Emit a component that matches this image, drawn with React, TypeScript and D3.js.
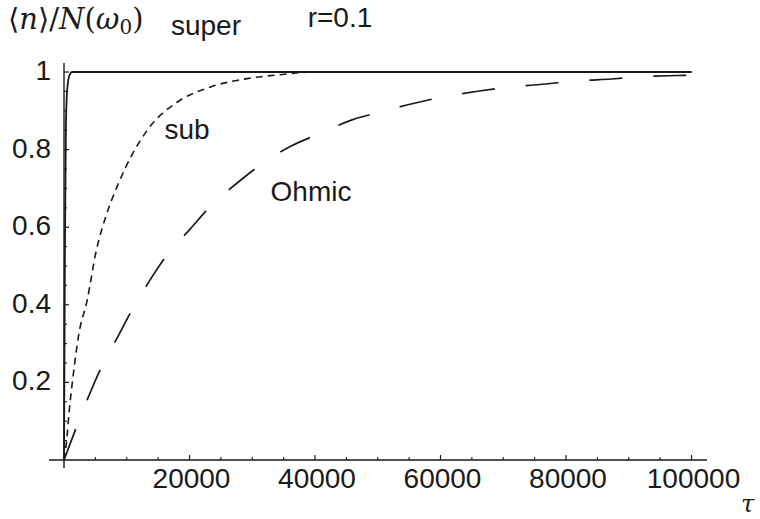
import React from "react";
import * as d3 from "d3";

const superT = [0, 150, 300, 450, 650, 900, 1300, 100000];
const superY = [0, 0.55, 0.85, 0.94, 0.975, 0.993, 1.0, 1.0];

const subT = [0, 480, 800, 1435, 2390, 3670, 5100, 6860, 8600, 13400, 18000, 23300, 29200, 34400, 40000, 100000];
const subY = [0, 0.06, 0.121, 0.214, 0.327, 0.41, 0.536, 0.637, 0.71, 0.853, 0.922, 0.961, 0.983, 0.993, 1.0, 1.0];

const ohmicT = [0, 1914, 3828, 5900, 8450, 10850, 13600, 16400, 20100, 23400, 27600, 31700, 36200, 41000, 45800, 50900, 56000, 61100, 66200, 71100, 76700, 81800, 87200, 92300, 97800, 100000];
const ohmicY = [0, 0.082, 0.16, 0.237, 0.314, 0.387, 0.461, 0.528, 0.595, 0.655, 0.714, 0.765, 0.809, 0.843, 0.876, 0.899, 0.92, 0.938, 0.951, 0.961, 0.969, 0.977, 0.982, 0.988, 0.991, 0.992];

const xMajorTicks = [20000, 40000, 60000, 80000, 100000];
const xTickLabels = ["20000", "40000", "60000", "80000", "100000"];
const yMajorTicks = [0.2, 0.4, 0.6, 0.8, 1];
const yTickLabels = ["0.2", "0.4", "0.6", "0.8", "1"];
const xMinorStep = 5000;
const yMinorStep = 0.05;

const curveNames = ["super", "sub", "Ohmic"];
const titleText = "r=0.1";

export default function App() {
  const W = 760;
  const H = 519;
  const x = d3.scaleLinear().domain([0, 100000]).range([64, 691.5]);
  const y = d3.scaleLinear().domain([0, 1]).range([460, 72]);
  const ink = "#1a1a1a";

  const line = d3
    .line<[number, number]>()
    .x((d) => x(d[0]))
    .y((d) => y(d[1]))
    .curve(d3.curveMonotoneX);

  const zip = (a: number[], b: number[]) => a.map((v, i) => [v, b[i]] as [number, number]);

  const xMinor = d3.range(xMinorStep, 100000 + 1, xMinorStep).filter((v) => v % 20000 !== 0);
  const yMinor = d3.range(1, 21).map((i) => i * yMinorStep).filter((v) => Math.abs(v * 5 - Math.round(v * 5)) > 1e-6);

  const sans = "'Liberation Sans', Arial, Helvetica, sans-serif";
  const serif = "'DejaVu Serif', 'Liberation Serif', serif";
  const fs = 28;

  return (
    <svg width={W} height={H} viewBox={`0 0 ${W} ${H}`} style={{ display: "block", position: "absolute", left: 0, top: 0, background: "#fff" }}>
      <rect width={W} height={H} fill="#fff" />
      {/* axes */}
      <line x1={49} x2={707} y1={y(0)} y2={y(0)} stroke={ink} strokeWidth={1.4} />
      <line x1={x(0)} x2={x(0)} y1={468} y2={63} stroke={ink} strokeWidth={1.4} />
      {/* x ticks */}
      {xMajorTicks.map((t) => (
        <line key={"xm" + t} x1={x(t)} x2={x(t)} y1={y(0)} y2={y(0) - 5} stroke={ink} strokeWidth={1.2} />
      ))}
      {xMinor.map((t) => (
        <line key={"xn" + t} x1={x(t)} x2={x(t)} y1={y(0)} y2={y(0) - 3} stroke={ink} strokeWidth={1.1} />
      ))}
      {xMajorTicks.map((t, i) => (
        <text key={"xl" + t} x={x(t) + 2} y={488} textAnchor="middle" fontFamily={sans} fontSize={fs} fill={ink}>
          {xTickLabels[i]}
        </text>
      ))}
      {/* y ticks */}
      {yMajorTicks.map((t) => (
        <line key={"ym" + t} x1={x(0)} x2={x(0) + 5} y1={y(t)} y2={y(t)} stroke={ink} strokeWidth={1.2} />
      ))}
      {yMinor.map((t) => (
        <line key={"yn" + t} x1={x(0)} x2={x(0) + 3} y1={y(t)} y2={y(t)} stroke={ink} strokeWidth={1.1} />
      ))}
      {yMajorTicks.map((t, i) => (
        <text key={"yl" + t} x={51} y={y(t) + 8} textAnchor="end" fontFamily={sans} fontSize={fs} fill={ink}>
          {yTickLabels[i]}
        </text>
      ))}
      {/* curves */}
      <path d={line(zip(ohmicT, ohmicY)) || ""} fill="none" stroke={ink} strokeWidth={1.7} strokeDasharray="33,31" />
      <path d={line(zip(subT, subY)) || ""} fill="none" stroke={ink} strokeWidth={1.6} strokeDasharray="7,5" />
      <path d={line(zip(superT, superY)) || ""} fill="none" stroke={ink} strokeWidth={1.8} />
      {/* labels */}
      <text x={206} y={35} textAnchor="middle" fontFamily={sans} fontSize={fs} fill={ink}>{curveNames[0]}</text>
      <text x={187} y={139} textAnchor="middle" fontFamily={sans} fontSize={fs} fill={ink}>{curveNames[1]}</text>
      <text x={311} y={201} textAnchor="middle" fontFamily={sans} fontSize={fs} fill={ink}>{curveNames[2]}</text>
      <text x={340} y={27} textAnchor="middle" fontFamily={sans} fontSize={fs} fill={ink}>{titleText}</text>
      {/* y axis label */}
      <text x={8} y={29} fontFamily={serif} fontSize={29} fill={ink}>
        <tspan>⟨</tspan>
        <tspan fontStyle="italic">n</tspan>
        <tspan>⟩/</tspan>
        <tspan fontStyle="italic">N</tspan>
        <tspan>(</tspan>
        <tspan fontStyle="italic">ω</tspan>
        <tspan fontSize={20} dy={5}>0</tspan>
        <tspan dy={-5}>)</tspan>
      </text>
      {/* x axis label */}
      <text x={741} y={512} fontFamily={serif} fontStyle="italic" fontSize={24} fill={ink}>τ</text>
    </svg>
  );
}
